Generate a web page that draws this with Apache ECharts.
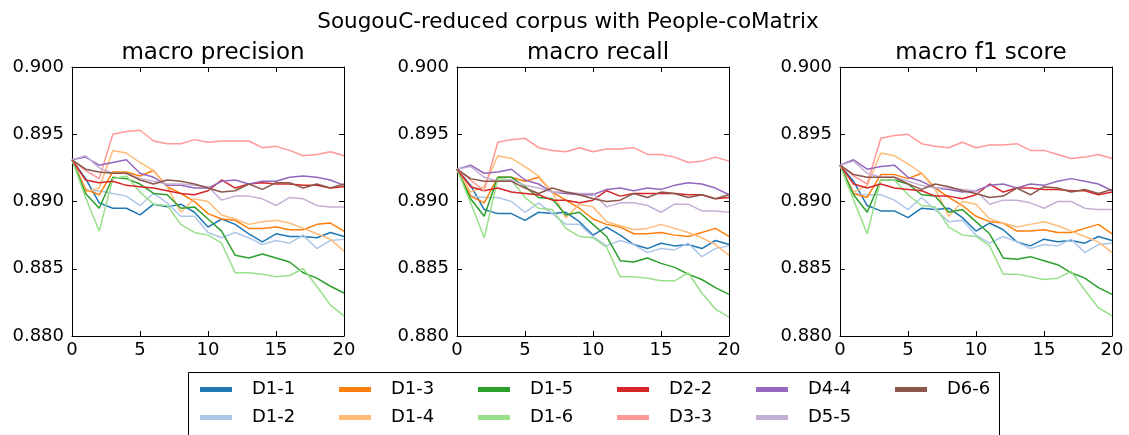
<!DOCTYPE html>
<html>
<head>
<meta charset="utf-8">
<script src="https://cdn.jsdelivr.net/npm/echarts@6/dist/echarts.min.js"></script>
<style>
  html, body { margin: 0; padding: 0; background: #fff; }
  #chart { width: 1129px; height: 435px; }
</style>
</head>
<body>
<div id="chart"></div>
<script>
/* --- data --- */
const steps = [0,1,2,3,4,5,6,7,8,9,10,11,12,13,14,15,16,17,18,19,20];
const seriesNames = ['D1-1','D1-2','D1-3','D1-4','D1-5','D1-6','D2-2','D3-3','D4-4','D5-5','D6-6'];
const seriesColors = ['#1f77b4','#aec7e8','#ff7f0e','#ffbb78','#2ca02c','#98df8a','#d62728','#ff9896','#9467bd','#c5b0d5','#8c564b'];
const panelTitles = ['macro precision','macro recall','macro f1 score'];
const yTicks = [0.880, 0.885, 0.890, 0.895, 0.900];
const xTicks = [0, 5, 10, 15, 20];

const precision = [
  [0.8931,0.8917,0.8899,0.8895,0.8895,0.8890,0.8898,0.8896,0.8898,0.8892,0.8881,0.8887,0.8883,0.8876,0.8870,0.8876,0.8874,0.8874,0.8873,0.8877,0.8874],
  [0.8931,0.8908,0.8908,0.8906,0.8904,0.8897,0.8906,0.8899,0.8889,0.8889,0.8877,0.8873,0.8877,0.8873,0.8868,0.8871,0.8869,0.8875,0.8865,0.8871,0.8872],
  [0.8931,0.8909,0.8905,0.8922,0.8922,0.8919,0.8923,0.8911,0.8906,0.8900,0.8891,0.8887,0.8886,0.8880,0.8880,0.8881,0.8879,0.8879,0.8883,0.8884,0.8878],
  [0.8931,0.8907,0.8910,0.8938,0.8936,0.8929,0.8923,0.8911,0.8892,0.8902,0.8900,0.8890,0.8887,0.8883,0.8885,0.8886,0.8884,0.8880,0.8876,0.8872,0.8863],
  [0.8931,0.8906,0.8895,0.8918,0.8917,0.8913,0.8906,0.8905,0.8895,0.8896,0.8887,0.8878,0.8860,0.8858,0.8861,0.8858,0.8855,0.8847,0.8843,0.8837,0.8832],
  [0.8931,0.8903,0.8878,0.8917,0.8919,0.8907,0.8898,0.8897,0.8883,0.8877,0.8875,0.8869,0.8847,0.8847,0.8846,0.8844,0.8845,0.8850,0.8837,0.8823,0.8815],
  [0.8931,0.8916,0.8914,0.8915,0.8912,0.8911,0.8910,0.8908,0.8906,0.8905,0.8908,0.8916,0.8910,0.8913,0.8914,0.8913,0.8913,0.8912,0.8912,0.8910,0.8911],
  [0.8931,0.8923,0.8917,0.8950,0.8952,0.8953,0.8945,0.8943,0.8943,0.8946,0.8944,0.8945,0.8945,0.8945,0.8940,0.8941,0.8938,0.8934,0.8935,0.8937,0.8934],
  [0.8931,0.8933,0.8927,0.8929,0.8931,0.8921,0.8918,0.8912,0.8912,0.8910,0.8910,0.8915,0.8916,0.8913,0.8915,0.8915,0.8918,0.8919,0.8918,0.8916,0.8912],
  [0.8931,0.8934,0.8925,0.8921,0.8921,0.8917,0.8915,0.8913,0.8913,0.8912,0.8911,0.8901,0.8904,0.8904,0.8902,0.8897,0.8903,0.8902,0.8897,0.8896,0.8896],
  [0.8931,0.8924,0.8922,0.8921,0.8921,0.8916,0.8913,0.8916,0.8915,0.8913,0.8910,0.8907,0.8908,0.8913,0.8909,0.8914,0.8914,0.8910,0.8913,0.8910,0.8913]
];

const recall = [
  [0.8924,0.8912,0.8894,0.8891,0.8891,0.8886,0.8892,0.8891,0.8892,0.8885,0.8875,0.8881,0.8875,0.8868,0.8865,0.8869,0.8867,0.8868,0.8865,0.8871,0.8868],
  [0.8924,0.8904,0.8903,0.8903,0.8900,0.8892,0.8899,0.8891,0.8883,0.8883,0.8874,0.8867,0.8871,0.8868,0.8862,0.8865,0.8864,0.8869,0.8859,0.8865,0.8867],
  [0.8924,0.8904,0.8899,0.8918,0.8918,0.8915,0.8918,0.8907,0.8901,0.8895,0.8887,0.8883,0.8881,0.8876,0.8876,0.8877,0.8875,0.8874,0.8877,0.8880,0.8874],
  [0.8924,0.8907,0.8911,0.8934,0.8932,0.8926,0.8919,0.8907,0.8888,0.8898,0.8896,0.8885,0.8882,0.8879,0.8880,0.8883,0.8880,0.8877,0.8873,0.8868,0.8860],
  [0.8924,0.8902,0.8889,0.8918,0.8918,0.8911,0.8903,0.8902,0.8890,0.8892,0.8883,0.8874,0.8856,0.8855,0.8858,0.8854,0.8851,0.8846,0.8842,0.8836,0.8831],
  [0.8924,0.8899,0.8873,0.8917,0.8916,0.8903,0.8895,0.8894,0.8880,0.8874,0.8873,0.8866,0.8844,0.8844,0.8843,0.8841,0.8841,0.8847,0.8832,0.8820,0.8814],
  [0.8924,0.8911,0.8908,0.8910,0.8907,0.8906,0.8905,0.8901,0.8901,0.8899,0.8901,0.8908,0.8904,0.8906,0.8906,0.8906,0.8906,0.8905,0.8905,0.8902,0.8903],
  [0.8924,0.8916,0.8908,0.8944,0.8946,0.8947,0.8940,0.8938,0.8937,0.8940,0.8937,0.8939,0.8939,0.8940,0.8935,0.8935,0.8933,0.8929,0.8930,0.8933,0.8930],
  [0.8924,0.8927,0.8921,0.8922,0.8924,0.8916,0.8913,0.8907,0.8906,0.8905,0.8905,0.8909,0.8910,0.8908,0.8910,0.8909,0.8912,0.8914,0.8913,0.8910,0.8905],
  [0.8924,0.8926,0.8918,0.8915,0.8916,0.8912,0.8910,0.8907,0.8907,0.8906,0.8906,0.8896,0.8899,0.8899,0.8897,0.8892,0.8898,0.8898,0.8893,0.8893,0.8892],
  [0.8924,0.8917,0.8915,0.8915,0.8915,0.8910,0.8906,0.8910,0.8907,0.8905,0.8902,0.8900,0.8901,0.8906,0.8903,0.8907,0.8906,0.8903,0.8905,0.8902,0.8905]
];

const f1score = [
  [0.8927,0.8915,0.8897,0.8893,0.8893,0.8888,0.8895,0.8894,0.8895,0.8888,0.8878,0.8884,0.8879,0.8870,0.8867,0.8872,0.8870,0.8871,0.8869,0.8874,0.8871],
  [0.8927,0.8906,0.8905,0.8905,0.8901,0.8894,0.8903,0.8894,0.8885,0.8886,0.8875,0.8869,0.8874,0.8870,0.8865,0.8868,0.8867,0.8872,0.8862,0.8868,0.8869],
  [0.8927,0.8906,0.8903,0.8920,0.8920,0.8917,0.8921,0.8910,0.8903,0.8897,0.8889,0.8885,0.8884,0.8878,0.8878,0.8879,0.8877,0.8877,0.8880,0.8883,0.8876],
  [0.8927,0.8907,0.8912,0.8936,0.8934,0.8928,0.8921,0.8909,0.8889,0.8900,0.8898,0.8887,0.8884,0.8881,0.8883,0.8885,0.8882,0.8878,0.8874,0.8870,0.8862],
  [0.8927,0.8905,0.8892,0.8916,0.8916,0.8913,0.8905,0.8904,0.8892,0.8894,0.8885,0.8876,0.8858,0.8857,0.8859,0.8856,0.8853,0.8847,0.8843,0.8836,0.8831],
  [0.8927,0.8901,0.8876,0.8916,0.8916,0.8905,0.8897,0.8896,0.8881,0.8875,0.8874,0.8867,0.8846,0.8846,0.8844,0.8842,0.8843,0.8848,0.8834,0.8821,0.8815],
  [0.8927,0.8913,0.8910,0.8913,0.8910,0.8909,0.8908,0.8904,0.8904,0.8902,0.8905,0.8913,0.8907,0.8910,0.8910,0.8909,0.8909,0.8908,0.8908,0.8905,0.8907],
  [0.8927,0.8919,0.8913,0.8947,0.8949,0.8950,0.8943,0.8941,0.8940,0.8944,0.8940,0.8942,0.8942,0.8943,0.8938,0.8938,0.8935,0.8932,0.8933,0.8935,0.8932],
  [0.8927,0.8931,0.8924,0.8926,0.8927,0.8918,0.8915,0.8910,0.8909,0.8907,0.8908,0.8912,0.8913,0.8910,0.8913,0.8912,0.8915,0.8917,0.8915,0.8913,0.8908],
  [0.8927,0.8930,0.8921,0.8918,0.8918,0.8915,0.8912,0.8910,0.8910,0.8909,0.8908,0.8898,0.8901,0.8901,0.8899,0.8895,0.8900,0.8900,0.8895,0.8894,0.8894],
  [0.8927,0.8920,0.8918,0.8918,0.8918,0.8913,0.8909,0.8913,0.8911,0.8908,0.8906,0.8903,0.8904,0.8910,0.8905,0.8911,0.8910,0.8907,0.8909,0.8906,0.8909]
];

const panels = [precision, recall, f1score];

/* --- layout --- */
const FONT = 'DejaVu Sans';
const gridLefts = [72, 457, 840];
const gridW = 272, gridTop = 67, gridH = 269;

const grids = [], xAxes = [], yAxes = [], series = [], titles = [];

titles.push({
  text: 'SougouC-reduced corpus with People-coMatrix',
  left: 563, top: 6, textAlign: 'center',
  textStyle: { fontFamily: FONT, fontSize: 21.5, fontWeight: 'normal', color: '#000' }
});

panels.forEach((panel, g) => {
  grids.push({ left: gridLefts[g], top: gridTop, width: gridW, height: gridH });
  titles.push({
    text: panelTitles[g],
    left: gridLefts[g] + gridW / 2, top: 37, textAlign: 'center',
    textStyle: { fontFamily: FONT, fontSize: 23, fontWeight: 'normal', color: '#000' }
  });

  const tick = { show: true, inside: true, length: 5, lineStyle: { color: '#000' } };
  const line = { show: true, onZero: false, lineStyle: { color: '#000', width: 1 } };

  // bottom / top
  xAxes.push({
    type: 'value', gridIndex: g, min: xTicks[0], max: xTicks[xTicks.length - 1], interval: 5, position: 'bottom',
    axisLine: line, axisTick: tick, splitLine: { show: false },
    axisLabel: { fontFamily: FONT, fontSize: 18, color: '#000', margin: 5 }
  });
  xAxes.push({
    type: 'value', gridIndex: g, min: xTicks[0], max: xTicks[xTicks.length - 1], interval: 5, position: 'top',
    axisLine: line, axisTick: tick, splitLine: { show: false }, axisLabel: { show: false }
  });
  // left / right
  yAxes.push({
    type: 'value', gridIndex: g, min: yTicks[0], max: yTicks[yTicks.length - 1], interval: 0.005, position: 'left',
    axisLine: line, axisTick: tick, splitLine: { show: false },
    axisLabel: { fontFamily: FONT, fontSize: 18, color: '#000', margin: 8, formatter: v => v.toFixed(3) }
  });
  yAxes.push({
    type: 'value', gridIndex: g, min: yTicks[0], max: yTicks[yTicks.length - 1], interval: 0.005, position: 'right',
    axisLine: line, axisTick: tick, splitLine: { show: false }, axisLabel: { show: false }
  });

  panel.forEach((vals, i) => {
    series.push({
      name: seriesNames[i],
      type: 'line',
      xAxisIndex: 2 * g,
      yAxisIndex: 2 * g,
      data: steps.map((s, k) => [s, vals[k]]),
      symbol: 'none',
      lineStyle: { color: seriesColors[i], width: 1.5 },
      itemStyle: { color: seriesColors[i] },
      animation: false
    });
  });
});

// legend: 6 columns x 2 rows, filled column-major like matplotlib
const legends = seriesNames.map((name, i) => ({
  data: [name],
  left: 200 + Math.floor(i / 2) * 139,
  top: (i % 2 === 0 ? 389.5 : 417.5) - 10,
  padding: 0,
  icon: 'rect',
  itemWidth: 32,
  itemHeight: 5,
  selectedMode: false,
  textStyle: { fontFamily: FONT, fontSize: 18, color: '#000', lineHeight: 20, padding: [0, 0, 0, 15] }
}));

const chart = echarts.init(document.getElementById('chart'), null, { renderer: 'canvas' });
chart.setOption({
  backgroundColor: '#fff',
  animation: false,
  title: titles,
  grid: grids,
  xAxis: xAxes,
  yAxis: yAxes,
  legend: legends,
  series: series,
  graphic: [{
    type: 'rect',
    shape: { x: 188.5, y: 372.5, width: 811, height: 80 },
    style: { fill: 'none', stroke: '#000', lineWidth: 1 },
    z: -1
  }]
});
</script>
</body>
</html>
